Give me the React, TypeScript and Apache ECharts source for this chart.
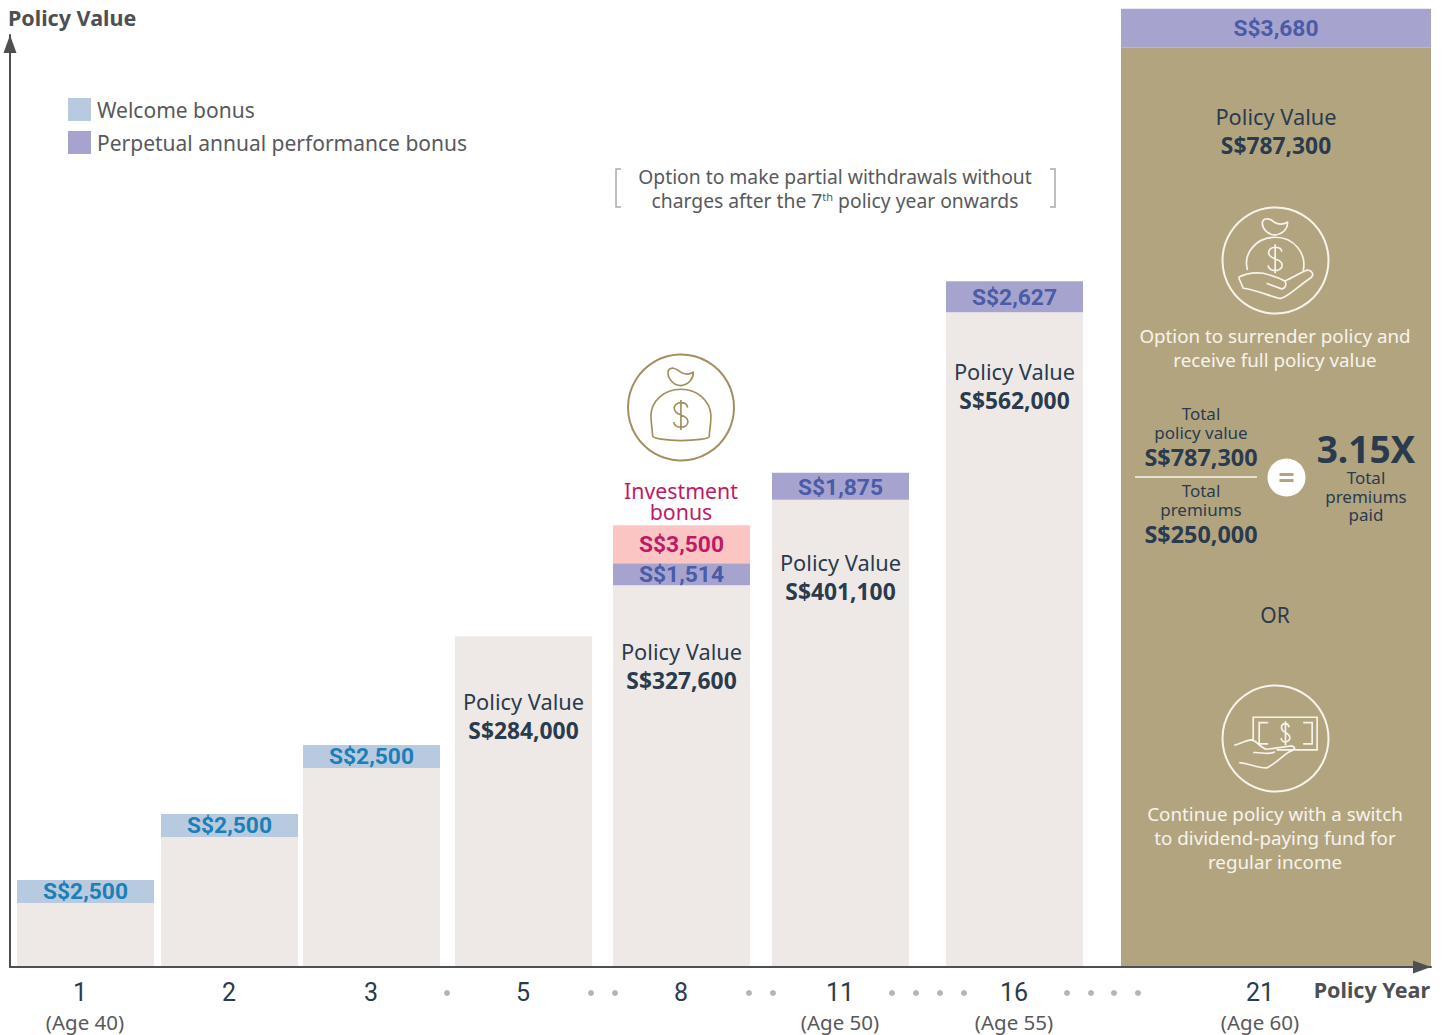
import React, { useEffect, useRef } from "react";
import * as echarts from "echarts";

const SANS = '"Noto Sans"';
const DIN = "Roboto";

// ---- data ----
const policyYears = ["1", "2", "3", "5", "8", "11", "16", "21"];
const ages = ["(Age 40)", "", "", "", "", "(Age 50)", "(Age 55)", "(Age 60)"];
// bar heights (axis units: policy value)
const policyValue = [54900, 111600, 170800, 284000, 327600, 401100, 562000, 789000];
const welcomeBand = [19700, 19700, 19700, 0, 0, 0, 0, 0];
const perpetualBand = [0, 0, 0, 0, 18900, 23200, 26600, 33500];
const investmentBand = [0, 0, 0, 0, 32600, 0, 0, 0];
// printed figures
const policyLabels = ["", "", "", "S$284,000", "S$327,600", "S$401,100", "S$562,000", "S$787,300"];
const welcomeLabels = ["S$2,500", "S$2,500", "S$2,500", "", "", "", "", ""];
const perpetualLabels = ["", "", "", "", "S$1,514", "S$1,875", "S$2,627", "S$3,680"];
const investmentLabels = ["", "", "", "", "S$3,500", "", "", ""];

// ---- layout on the (irregular) horizontal axis ----
const slotStart = [7, 151, 293, 445, 603, 762, 936, 1111];
const slotEnd = [144, 288, 430, 582, 740, 899, 1073, 1421];
const tickPositions = [75, 219, 361, 513, 671, 830, 1004, 1250];
const dotPositions = [437, 581, 605, 739, 763, 882, 906, 930, 954, 1057, 1081, 1104, 1128];
const dotLevel = -22300;
const labelDrop = [0, 0, 0, 66, 67, 64, 60, 70];
const bandLabelNudge = [0, 0, 0, 0, 0, 1, 1, 0];

const C = {
  bar: "#EEE9E6",
  tan: "#B3A480",
  welcome: "#B8CAE0",
  perpetual: "#A7A3CF",
  investment: "#FAC5C2",
  navy: "#2A3B4D",
  axis: "#4D4F53",
  grey: "#58595B",
  welcomeText: "#1C7FB5",
  perpetualText: "#4A5BA8",
  investmentText: "#BE1A68",
  paper: "#F7F4EC",
};

const bases = (...stacks: number[][]) =>
  policyValue.map((_, i) => stacks.reduce((s, a) => s + a[i], 0));

function bandSeries(name: string, values: number[], base: number[], color: string, labels: string[], textColor: string, nudge: number[] = []) {
  return {
    type: "custom",
    name,
    itemStyle: { color },
    encode: { x: [0, 1], y: [2, 3] },
    data: values.map((v, i) => [slotStart[i], slotEnd[i], base[i], base[i] + v]),
    renderItem: (params: any, api: any) => {
      const i = params.dataIndex;
      if (!values[i]) return { type: "group", children: [] };
      const a = api.coord([api.value(0), api.value(3)]);
      const b = api.coord([api.value(1), api.value(2)]);
      return {
        type: "group",
        children: [
          { type: "rect", shape: { x: a[0], y: a[1], width: b[0] - a[0], height: b[1] - a[1] }, style: { fill: color } },
          {
            type: "text",
            style: {
              text: labels[i],
              x: (a[0] + b[0]) / 2,
              y: (a[1] + b[1]) / 2 + (nudge[i] || 0),
              align: "center",
              verticalAlign: "middle",
              fill: textColor,
              font: `bold 22.8px ${DIN}`,
            },
          },
        ],
      };
    },
  };
}

const policySeries = {
  type: "custom",
  name: "Policy Value",
  itemStyle: { color: C.bar },
  encode: { x: [0, 1], y: [2, 3] },
  data: policyValue.map((v, i) => [slotStart[i], slotEnd[i], 0, v]),
  renderItem: (params: any, api: any) => {
    const i = params.dataIndex;
    const a = api.coord([api.value(0), api.value(3)]);
    const b = api.coord([api.value(1), api.value(2)]);
    const mid = (a[0] + b[0]) / 2;
    const children: any[] = [
      {
        type: "rect",
        shape: { x: a[0], y: a[1], width: b[0] - a[0], height: b[1] - a[1] },
        style: { fill: i === 7 ? C.tan : C.bar },
      },
    ];
    if (policyLabels[i]) {
      children.push(
        {
          type: "text",
          style: { text: "Policy Value", x: mid, y: a[1] + labelDrop[i] - 1, align: "center", verticalAlign: "middle", fill: C.navy, font: `21.8px ${SANS}` },
        },
        {
          type: "text",
          style: { text: policyLabels[i], x: mid, y: a[1] + labelDrop[i] + 28, align: "center", verticalAlign: "middle", fill: C.navy, font: `bold 22.8px ${SANS}` },
        }
      );
    }
    return { type: "group", children };
  },
};

const BAG =
  "M205 92 C212 80 228 84 240 95 C252 104 268 104 280 97 C281 115 268 134 243 137 C222 137 200 115 205 92 Z " +
  "M243 148 C190 148 155 185 153 225 C153 250 158 275 158 288 C158 295 200 302 243 302 C285 302 328 297 328 290 C328 275 334 250 333 225 C330 185 296 148 243 148 Z " +
  "M263 203 C262 192 252 188 243 188 C232 188 223 195 223 205 C223 218 235 222 243 225 C252 228 264 232 264 245 C264 256 254 262 243 262 C232 262 222 256 222 246 M243 180 V270";
const HAND_BAG =
  "M428 95 C435 82 450 85 462 96 C475 104 490 104 503 97 C505 115 490 132 466 135 C445 135 424 115 428 95 Z " +
  "M383 240 C368 190 410 142 466 142 C522 142 562 190 550 243 " +
  "M486 185 C485 176 476 172 466 172 C455 172 446 179 446 188 C446 200 458 204 466 207 C476 210 487 214 487 226 C487 236 477 242 466 242 C455 242 445 236 445 226 M466 163 V250 " +
  "M356 262 C375 252 400 246 430 250 C450 255 480 265 495 273 C502 285 495 297 485 297 L440 280 " +
  "M356 262 L370 295 C400 298 440 315 480 326 C505 322 520 300 575 262 C585 250 570 235 555 243 C535 252 515 265 495 273";
const HAND_NOTE =
  "M400 215 V142 H592 V240 H470 M445 158 H418 V222 H445 M550 158 H577 V222 H550 " +
  "M508 172 C506 164 502 161 497 161 C490 161 485 166 485 173 C485 182 492 185 497 188 C503 191 510 194 510 203 C510 211 504 216 497 216 C490 216 484 211 484 204 M497 154 V226 " +
  "M343 226 C360 222 375 212 395 210 C410 212 420 232 440 238 L515 228 C530 232 525 240 510 245 C490 255 470 280 440 294 C415 295 385 280 358 278 " +
  "M400 248 C420 245 450 258 465 245";

echarts.graphic.registerShape("bagIcon", echarts.graphic.extendPath(BAG, {}) as any);
echarts.graphic.registerShape("handBagIcon", echarts.graphic.extendPath(HAND_BAG, {}) as any);
echarts.graphic.registerShape("handNoteIcon", echarts.graphic.extendPath(HAND_NOTE, {}) as any);

const t = (text: string, x: number, y: number, fill: string, font: string) => ({
  type: "text",
  z: 20,
  style: { text, x, y, fill, font, align: "center", verticalAlign: "middle", textAlign: "center", textVerticalAlign: "middle" },
});
const icon = (type: string, x: number, y: number, stroke: string) => ({
  type,
  x,
  y,
  z: 20,
  scaleX: 1 / 3,
  scaleY: 1 / 3,
  style: { fill: "none", stroke, lineWidth: 5 },
});
const ring = (cx: number, cy: number, stroke: string) => ({
  type: "circle",
  z: 20,
  shape: { cx, cy, r: 53 },
  style: { fill: "none", stroke, lineWidth: 2 },
});

const F_NOTE = `19.3px ${SANS}`;
const F_BODY = `18.8px ${SANS}`;
const F_SM = `17px ${SANS}`;
const F_BOLD = `bold 23.4px ${SANS}`;

const graphics: any[] = [
  // partial withdrawal note
  { type: "polyline", z: 20, shape: { points: [[621, 169], [616, 169], [616, 207], [621, 207]] }, style: { fill: "none", stroke: "#A7A9AC", lineWidth: 1.5 } },
  { type: "polyline", z: 20, shape: { points: [[1050, 169], [1055, 169], [1055, 207], [1050, 207]] }, style: { fill: "none", stroke: "#A7A9AC", lineWidth: 1.5 } },
  t("Option to make partial withdrawals without", 835, 176.5, C.grey, F_NOTE),
  {
    type: "text",
    z: 20,
    style: {
      text: "charges after the 7{sup|th} policy year onwards",
      x: 835,
      y: 200.5,
      align: "center",
      verticalAlign: "middle",
      fill: C.grey,
      font: F_NOTE,
      rich: { sup: { fontSize: 11, fontFamily: SANS, fill: C.grey, verticalAlign: "top", padding: [0, 0, 8, 0] } },
    },
  },
  // investment bonus
  ring(681, 407.5, "#A38F5E"),
  icon("bagIcon", 600, 340, "#A38F5E"),
  t("Investment", 681, 490, C.investmentText, `21.3px ${SANS}`),
  t("bonus", 681, 511, C.investmentText, `21.3px ${SANS}`),
  // year 21 column
  ring(1275.5, 260.5, C.paper),
  icon("handBagIcon", 1120, 190, C.paper),
  t("Option to surrender policy and", 1275, 335.5, C.paper, F_BODY),
  t("receive full policy value", 1275, 359.5, C.paper, F_BODY),
  t("Total", 1201, 413, C.navy, F_SM),
  t("policy value", 1201, 432, C.navy, F_SM),
  t("S$787,300", 1201, 456.5, C.navy, F_BOLD),
  { type: "line", z: 20, shape: { x1: 1135, y1: 477, x2: 1257, y2: 477 }, style: { stroke: C.paper, lineWidth: 1.5 } },
  t("Total", 1201, 490, C.navy, F_SM),
  t("premiums", 1201, 509, C.navy, F_SM),
  t("S$250,000", 1201, 534, C.navy, F_BOLD),
  { type: "circle", z: 20, shape: { cx: 1286.5, cy: 477.5, r: 19 }, style: { fill: "#FFFFFF" } },
  { type: "rect", z: 21, shape: { x: 1279.5, y: 473, width: 14, height: 3 }, style: { fill: C.tan } },
  { type: "rect", z: 21, shape: { x: 1279.5, y: 479, width: 14, height: 3 }, style: { fill: C.tan } },
  t("3.15X", 1366, 448, C.navy, `bold 37px ${SANS}`),
  t("Total", 1366, 477, C.navy, F_SM),
  t("premiums", 1366, 496, C.navy, F_SM),
  t("paid", 1366, 514.5, C.navy, F_SM),
  t("OR", 1275, 615, C.navy, `21px ${SANS}`),
  ring(1275.5, 738.5, C.paper),
  icon("handNoteIcon", 1120, 670, C.paper),
  t("Continue policy with a switch", 1275, 813.5, C.paper, F_BODY),
  t("to dividend-paying fund for", 1275, 837.5, C.paper, F_BODY),
  t("regular income", 1275, 861.5, C.paper, F_BODY),
];

export default function App() {
  const ref = useRef<HTMLDivElement>(null);
  useEffect(() => {
    const chart = echarts.init(ref.current!, undefined, { renderer: "svg" });
    chart.setOption({
      animation: false,
      backgroundColor: "#FFFFFF",
      grid: { left: 10, right: 14, top: 35, bottom: 68, containLabel: false },
      legend: {
        left: 68,
        top: 98,
        orient: "vertical",
        icon: "rect",
        itemWidth: 23,
        itemHeight: 23,
        itemGap: 10,
        selectedMode: false,
        padding: 0,
        data: ["Welcome bonus", "Perpetual annual performance bonus"],
        textStyle: { color: C.grey, fontFamily: SANS, fontSize: 21, padding: [0, 0, 0, 1] },
      },
      xAxis: {
        type: "value",
        min: 0,
        max: 1421,
        z: 5,
        splitLine: { show: false },
        axisTick: { show: false },
        name: "Policy Year",
        nameLocation: "end",
        nameGap: -1,
        nameTextStyle: { align: "right", verticalAlign: "top", color: C.axis, fontFamily: SANS, fontWeight: "bold", fontSize: 21.5, padding: [11, 0, 0, 0] },
        axisLine: { show: true, symbol: ["none", "triangle"], symbolSize: [13, 18], symbolOffset: [0, -9], lineStyle: { color: C.axis, width: 2 } },
        axisLabel: {
          show: true,
          customValues: tickPositions,
          margin: 10,
          hideOverlap: false,
          formatter: (v: number) => {
            const i = tickPositions.indexOf(v);
            const style = i === 0 ? "y0" : "y";
            return `{${style}|${policyYears[i]}}${ages[i] ? `\n{a|${ages[i]}}` : ""}`;
          },
          rich: {
            y: { fontFamily: DIN, fontSize: 25, color: C.navy, lineHeight: 30, align: "center" },
            y0: { fontFamily: DIN, fontSize: 25, color: C.navy, lineHeight: 30, align: "center", padding: [0, 10, 0, 0] },
            a: { fontFamily: SANS, fontSize: 20.5, color: C.grey, lineHeight: 30, align: "center" },
          },
        },
      },
      yAxis: {
        type: "value",
        min: 0,
        max: 800000,
        z: 5,
        splitLine: { show: false },
        axisTick: { show: false },
        axisLabel: { show: false },
        name: "Policy Value",
        nameLocation: "end",
        nameGap: 7,
        nameTextStyle: { align: "left", verticalAlign: "bottom", color: C.axis, fontFamily: SANS, fontWeight: "bold", fontSize: 21.5, padding: [0, 0, 0, -2] },
        axisLine: { show: true, symbol: ["none", "triangle"], symbolSize: [13, 18], symbolOffset: [0, -9], lineStyle: { color: C.axis, width: 2 } },
      },
      series: [
        policySeries,
        bandSeries("Welcome bonus", welcomeBand, bases(policyValue), C.welcome, welcomeLabels, C.welcomeText),
        bandSeries("Perpetual annual performance bonus", perpetualBand, bases(policyValue, welcomeBand), C.perpetual, perpetualLabels, C.perpetualText, bandLabelNudge),
        bandSeries("Investment bonus", investmentBand, bases(policyValue, welcomeBand, perpetualBand), C.investment, investmentLabels, C.investmentText),
        {
          type: "scatter",
          name: "Intervening years",
          clip: false,
          symbol: "circle",
          symbolSize: 6,
          itemStyle: { color: "#9FA2A8" },
          data: dotPositions.map((x) => [x, dotLevel]),
        },
      ],
      graphic: { elements: graphics },
    });
    return () => chart.dispose();
  }, []);
  return <div ref={ref} style={{ position: "absolute", left: 0, top: 0, width: 1445, height: 1035 }} />;
}
